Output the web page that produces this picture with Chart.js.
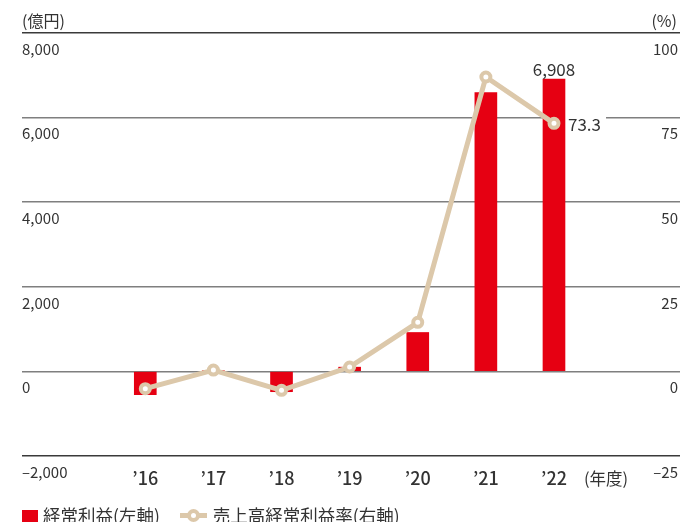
<!DOCTYPE html>
<html>
<head>
<meta charset="utf-8">
<script src="https://cdn.jsdelivr.net/npm/chart.js@4"></script>
<style>
  html, body { margin: 0; padding: 0; background: #fff; }
  #wrap { position: relative; width: 680px; height: 522px; overflow: hidden; font-family: "Noto Sans CJK JP", "Noto Sans", sans-serif; color: #333; }
  canvas { position: absolute; left: 0; top: 0; }
  .lbl { position: absolute; white-space: nowrap; line-height: 1; }
  #unitL { left: 22px; top: 12px; font-size: 16px; }
  #unitR { right: 3px; top: 12px; font-size: 16px; }
  #unitX { left: 584px; top: 470px; font-size: 16.5px; }
  #legend { position: absolute; left: 22px; top: 504px; font-size: 17.5px; line-height: 18px; display: flex; align-items: center; }
  .sq { width: 16px; height: 16px; background: #e60012; display: inline-block; margin-right: 5px; margin-top: 6px; }
  .ln { position: relative; width: 27px; height: 16px; display: inline-block; margin-left: 20px; margin-right: 6px; }
  .ln::before { content: ""; position: absolute; left: 0; right: 0; top: 6px; height: 5px; background: #dcc8aa; }
  .ln::after { content: ""; position: absolute; left: 7px; top: 2px; width: 5px; height: 5px; border: 4px solid #dcc8aa; border-radius: 50%; background: #fff; }
</style>
</head>
<body>
<div id="wrap">
  <canvas id="c" width="680" height="522"></canvas>
  <div class="lbl" id="unitL">(億円)</div>
  <div class="lbl" id="unitR">(%)</div>
  <div class="lbl" id="unitX">(年度)</div>
  <div id="legend"><span class="sq"></span><span>経常利益(左軸)</span><span class="ln"></span><span>売上高経常利益率(右軸)</span></div>
</div>
<script>
const categories = ["’16", "’17", "’18", "’19", "’20", "’21", "’22"];
const ordinaryProfit = [-550, 10, -480, 100, 920, 6590, 6908];   // 億円 (left axis)
const profitMargin = [-5.1, 0.4, -5.6, 1.3, 14.5, 87.0, 73.3];    // % (right axis)
const leftTicks = [-2000, 0, 2000, 4000, 6000, 8000];
const rightTicks = [-25, 0, 25, 50, 75, 100];

const RED = "#e60012";
const TAN = "#dcc8aa";
const TXT = "#333333";
const FONT = '"Noto Sans CJK JP", "Noto Sans", sans-serif';

function fmtLeft(v) {
  const s = Math.abs(v).toLocaleString("en-US");
  return v < 0 ? "–" + s : s;
}
function fmtRight(v) {
  return v < 0 ? "–" + Math.abs(v) : String(v);
}

const dataLabels = {
  id: "dataLabels",
  beforeDatasetsDraw(chart) {
    const ctx = chart.ctx;
    const last = categories.length - 1;
    const ptEl = chart.getDatasetMeta(1).data[last];
    ctx.save();
    ctx.font = "17px " + FONT;
    const w = ctx.measureText(profitMargin[last].toFixed(1)).width;
    ctx.fillStyle = "#fff";
    ctx.fillRect(ptEl.x + 9, ptEl.y - 10, w + 10, 20);
    ctx.restore();
  },
  afterDatasetsDraw(chart) {
    const ctx = chart.ctx;
    const last = categories.length - 1;
    const barEl = chart.getDatasetMeta(0).data[last];
    const ptEl = chart.getDatasetMeta(1).data[last];
    ctx.save();
    ctx.font = "17px " + FONT;
    ctx.fillStyle = TXT;
    ctx.textAlign = "center";
    ctx.textBaseline = "bottom";
    ctx.fillText(ordinaryProfit[last].toLocaleString("en-US"), barEl.x, barEl.y - 1);
    ctx.textAlign = "left";
    ctx.textBaseline = "middle";
    ctx.fillText(profitMargin[last].toFixed(1), ptEl.x + 14, ptEl.y + 1);
    ctx.restore();
  }
};

new Chart(document.getElementById("c"), {
  data: {
    datasets: [
      {
        type: "bar",
        label: "経常利益(左軸)",
        data: categories.map((c, i) => ({ x: i, y: ordinaryProfit[i] })),
        backgroundColor: RED,
        barThickness: 22,
        yAxisID: "y",
        order: 2
      },
      {
        type: "line",
        label: "売上高経常利益率(右軸)",
        data: categories.map((c, i) => ({ x: i, y: profitMargin[i] })),
        borderColor: TAN,
        borderWidth: 5,
        pointRadius: 4.5,
        pointBorderWidth: 4,
        pointBackgroundColor: "#fff",
        pointBorderColor: TAN,
        tension: 0,
        yAxisID: "y1",
        order: 1
      }
    ]
  },
  options: {
    responsive: false,
    animation: false,
    devicePixelRatio: 1,
    layout: { autoPadding: false, padding: { left: 22, top: 33, right: 0, bottom: 0 } },
    plugins: { legend: { display: false }, tooltip: { enabled: false } },
    scales: {
      x: {
        type: "linear",
        offset: false,
        min: -1.81,
        max: 7.85,
        afterFit(s) { s.height = 66; s.paddingLeft = 0; s.paddingRight = 0; },
        afterBuildTicks(s) { s.ticks = categories.map((c, i) => ({ value: i })); },
        grid: { display: false, drawTicks: false, offset: false },
        border: { display: false },
        ticks: {
          autoSkip: false,
          maxRotation: 0,
          padding: 11,
          color: TXT,
          font: { family: FONT, size: 18, weight: "500" },
          callback: (v) => categories[Math.round(v)] || ""
        }
      },
      y: {
        position: "left",
        min: leftTicks[0],
        max: leftTicks[leftTicks.length - 1],
        afterFit(s) { s.width = 0; },
        afterBuildTicks(s) { s.ticks = leftTicks.map(v => ({ value: v })); },
        border: { display: false },
        grid: {
          drawTicks: false,
          lineWidth: 1.5,
          color: (c) => (c.tick && (c.tick.value === 8000 || c.tick.value === -2000)) ? "#3a3a3a" : "#7f7f7f"
        },
        ticks: {
          mirror: true,
          padding: 0,
          labelOffset: 16,
          color: TXT,
          font: { family: FONT, size: 15 },
          callback: (v) => fmtLeft(v)
        }
      },
      y1: {
        position: "right",
        min: rightTicks[0],
        max: rightTicks[rightTicks.length - 1],
        afterFit(s) { s.width = 0; },
        afterBuildTicks(s) { s.ticks = rightTicks.map(v => ({ value: v })); },
        border: { display: false },
        grid: { display: false, drawTicks: false },
        ticks: {
          mirror: true,
          padding: -2,
          labelOffset: 16,
          color: TXT,
          font: { family: FONT, size: 15 },
          callback: (v) => fmtRight(v)
        }
      }
    }
  },
  plugins: [dataLabels]
});
</script>
</body>
</html>
